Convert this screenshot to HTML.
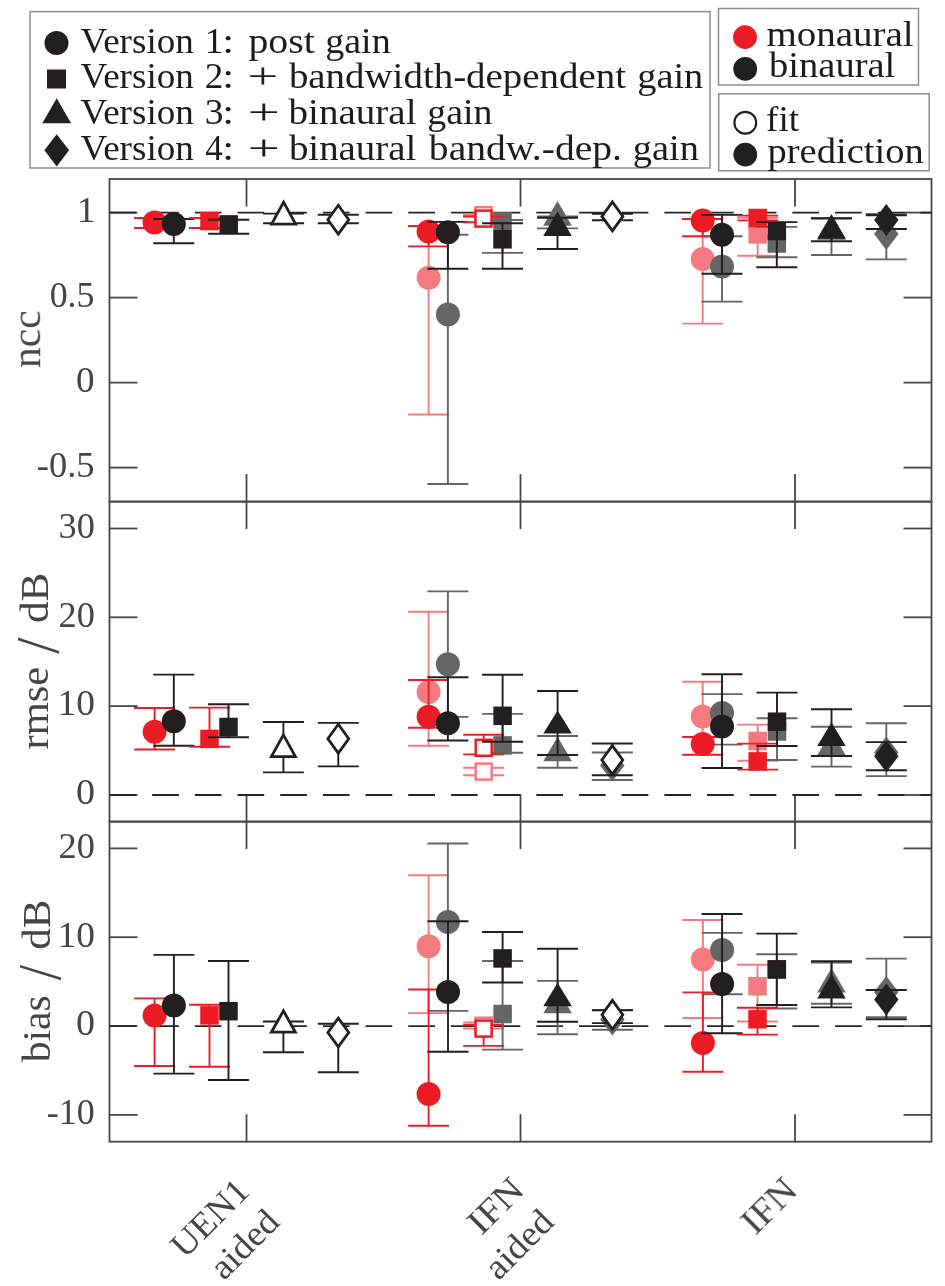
<!DOCTYPE html>
<html><head><meta charset="utf-8"><style>
html,body{margin:0;padding:0;background:#fff;width:945px;height:1286px;overflow:hidden}
svg{display:block;will-change:transform}
.tk{font-family:"Liberation Serif",serif;font-size:35px;fill:#454547}
.yl{font-family:"Liberation Serif",serif;font-size:41px;fill:#454547}
.lg{font-family:"Liberation Serif",serif;font-size:34.5px;fill:#1a1a1a}
</style></head><body>
<svg width="945" height="1286" viewBox="0 0 945 1286">
<rect x="109.5" y="179.0" width="822.0" height="322.6" fill="none" stroke="#46474a" stroke-width="1.8"/>
<line x1="246.5" y1="179.0" x2="246.5" y2="206.5" stroke="#46474a" stroke-width="1.8"/>
<line x1="246.5" y1="501.6" x2="246.5" y2="474.1" stroke="#46474a" stroke-width="1.8"/>
<line x1="520.5" y1="179.0" x2="520.5" y2="206.5" stroke="#46474a" stroke-width="1.8"/>
<line x1="520.5" y1="501.6" x2="520.5" y2="474.1" stroke="#46474a" stroke-width="1.8"/>
<line x1="795.0" y1="179.0" x2="795.0" y2="206.5" stroke="#46474a" stroke-width="1.8"/>
<line x1="795.0" y1="501.6" x2="795.0" y2="474.1" stroke="#46474a" stroke-width="1.8"/>
<rect x="109.5" y="501.6" width="822.0" height="320.0" fill="none" stroke="#46474a" stroke-width="1.8"/>
<line x1="246.5" y1="501.6" x2="246.5" y2="529.1" stroke="#46474a" stroke-width="1.8"/>
<line x1="246.5" y1="821.6" x2="246.5" y2="794.1" stroke="#46474a" stroke-width="1.8"/>
<line x1="520.5" y1="501.6" x2="520.5" y2="529.1" stroke="#46474a" stroke-width="1.8"/>
<line x1="520.5" y1="821.6" x2="520.5" y2="794.1" stroke="#46474a" stroke-width="1.8"/>
<line x1="795.0" y1="501.6" x2="795.0" y2="529.1" stroke="#46474a" stroke-width="1.8"/>
<line x1="795.0" y1="821.6" x2="795.0" y2="794.1" stroke="#46474a" stroke-width="1.8"/>
<rect x="109.5" y="821.6" width="822.0" height="320.1" fill="none" stroke="#46474a" stroke-width="1.8"/>
<line x1="246.5" y1="821.6" x2="246.5" y2="849.1" stroke="#46474a" stroke-width="1.8"/>
<line x1="246.5" y1="1141.7" x2="246.5" y2="1114.2" stroke="#46474a" stroke-width="1.8"/>
<line x1="520.5" y1="821.6" x2="520.5" y2="849.1" stroke="#46474a" stroke-width="1.8"/>
<line x1="520.5" y1="1141.7" x2="520.5" y2="1114.2" stroke="#46474a" stroke-width="1.8"/>
<line x1="795.0" y1="821.6" x2="795.0" y2="849.1" stroke="#46474a" stroke-width="1.8"/>
<line x1="795.0" y1="1141.7" x2="795.0" y2="1114.2" stroke="#46474a" stroke-width="1.8"/>
<line x1="109.5" y1="212.6" x2="137.5" y2="212.6" stroke="#46474a" stroke-width="1.8"/>
<line x1="931.5" y1="212.6" x2="903.5" y2="212.6" stroke="#46474a" stroke-width="1.8"/>
<line x1="109.5" y1="297.6" x2="137.5" y2="297.6" stroke="#46474a" stroke-width="1.8"/>
<line x1="931.5" y1="297.6" x2="903.5" y2="297.6" stroke="#46474a" stroke-width="1.8"/>
<line x1="109.5" y1="382.6" x2="137.5" y2="382.6" stroke="#46474a" stroke-width="1.8"/>
<line x1="931.5" y1="382.6" x2="903.5" y2="382.6" stroke="#46474a" stroke-width="1.8"/>
<line x1="109.5" y1="467.6" x2="137.5" y2="467.6" stroke="#46474a" stroke-width="1.8"/>
<line x1="931.5" y1="467.6" x2="903.5" y2="467.6" stroke="#46474a" stroke-width="1.8"/>
<line x1="109.5" y1="528.5" x2="137.5" y2="528.5" stroke="#46474a" stroke-width="1.8"/>
<line x1="931.5" y1="528.5" x2="903.5" y2="528.5" stroke="#46474a" stroke-width="1.8"/>
<line x1="109.5" y1="617.3" x2="137.5" y2="617.3" stroke="#46474a" stroke-width="1.8"/>
<line x1="931.5" y1="617.3" x2="903.5" y2="617.3" stroke="#46474a" stroke-width="1.8"/>
<line x1="109.5" y1="706.1" x2="137.5" y2="706.1" stroke="#46474a" stroke-width="1.8"/>
<line x1="931.5" y1="706.1" x2="903.5" y2="706.1" stroke="#46474a" stroke-width="1.8"/>
<line x1="109.5" y1="795.0" x2="137.5" y2="795.0" stroke="#46474a" stroke-width="1.8"/>
<line x1="931.5" y1="795.0" x2="903.5" y2="795.0" stroke="#46474a" stroke-width="1.8"/>
<line x1="109.5" y1="848.4" x2="137.5" y2="848.4" stroke="#46474a" stroke-width="1.8"/>
<line x1="931.5" y1="848.4" x2="903.5" y2="848.4" stroke="#46474a" stroke-width="1.8"/>
<line x1="109.5" y1="937.2" x2="137.5" y2="937.2" stroke="#46474a" stroke-width="1.8"/>
<line x1="931.5" y1="937.2" x2="903.5" y2="937.2" stroke="#46474a" stroke-width="1.8"/>
<line x1="109.5" y1="1026.1" x2="137.5" y2="1026.1" stroke="#46474a" stroke-width="1.8"/>
<line x1="931.5" y1="1026.1" x2="903.5" y2="1026.1" stroke="#46474a" stroke-width="1.8"/>
<line x1="109.5" y1="1114.9" x2="137.5" y2="1114.9" stroke="#46474a" stroke-width="1.8"/>
<line x1="931.5" y1="1114.9" x2="903.5" y2="1114.9" stroke="#46474a" stroke-width="1.8"/>
<line x1="109.5" y1="212.6" x2="931.5" y2="212.6" stroke="#262626" stroke-width="1.8" stroke-dasharray="26.7 15.98"/>
<line x1="109.5" y1="795.0" x2="931.5" y2="795.0" stroke="#262626" stroke-width="1.8" stroke-dasharray="26.7 15.98"/>
<line x1="109.5" y1="1026.1" x2="931.5" y2="1026.1" stroke="#262626" stroke-width="1.8" stroke-dasharray="26.7 15.98"/>
<rect x="30" y="11.6" width="680" height="156.4" fill="#fff" stroke="#8e8f93" stroke-width="1.5"/>
<rect x="718.5" y="8.5" width="200" height="76.5" fill="#fff" stroke="#8e8f93" stroke-width="1.5"/>
<rect x="718.7" y="93.8" width="210.5" height="77" fill="#fff" stroke="#8e8f93" stroke-width="1.5"/>
<circle cx="56.5" cy="43" r="12" fill="#231f20"/>
<rect x="47" y="69.5" width="19" height="19" fill="#231f20"/>
<path d="M42.3 123.2 L56.7 98.3 L71.1 123.2 Z" fill="#231f20"/>
<path d="M56.7 134.2 L69.1 150.3 L56.7 166.4 L44.4 150.3 Z" fill="#231f20"/>
<circle cx="745" cy="37.2" r="11.9" fill="#ed1c24"/>
<circle cx="745.2" cy="68.9" r="11.9" fill="#231f20"/>
<circle cx="745.3" cy="122.7" r="10.9" fill="none" stroke="#231f20" stroke-width="2.2"/>
<circle cx="745.3" cy="154.6" r="11.9" fill="#231f20"/>
<path d="M154.5 218V228M134.0 218H175.0M134.0 228H175.0" stroke="#ed1c24" stroke-width="1.9" fill="none"/>
<circle cx="154.5" cy="222.5" r="12" fill="#ed1c24"/>
<path d="M173.8 219V243.3M153.3 219H194.3M153.3 243.3H194.3" stroke="#231f20" stroke-width="1.9" fill="none"/>
<circle cx="173.8" cy="224" r="12" fill="#231f20"/>
<path d="M209.5 218V228M189.0 218H230.0M189.0 228H230.0" stroke="#ed1c24" stroke-width="1.9" fill="none"/>
<rect x="200.25" y="211.75" width="18.5" height="18.5" fill="#ed1c24"/>
<path d="M228.7 219.8V233.7M208.2 219.8H249.2M208.2 233.7H249.2" stroke="#231f20" stroke-width="1.9" fill="none"/>
<rect x="219.45" y="215.15" width="18.5" height="18.5" fill="#231f20"/>
<path d="M283.6 213.6V223.2M263.1 213.6H304.1M263.1 223.2H304.1" stroke="#231f20" stroke-width="1.9" fill="none"/>
<path d="M283.6 202.2L295.6 224.2H271.6Z" fill="#fff" stroke="#231f20" stroke-width="2.8" stroke-linejoin="miter"/>
<path d="M338.3 214.7V223.2M317.8 214.7H358.8M317.8 223.2H358.8" stroke="#231f20" stroke-width="1.9" fill="none"/>
<path d="M338.3 205.29999999999998L348.75 219.7L338.3 234.1L327.85 219.7Z" fill="#fff" stroke="#231f20" stroke-width="2.8" stroke-linejoin="miter"/>
<path d="M428.6 226V414.5M408.1 226H449.1M408.1 414.5H449.1" stroke="#f37a7f" stroke-width="1.9" fill="none"/>
<circle cx="428.6" cy="277.8" r="12" fill="#f37a7f"/>
<path d="M447.9 234.7V484M427.4 234.7H468.4M427.4 484H468.4" stroke="#646567" stroke-width="1.9" fill="none"/>
<circle cx="447.9" cy="314.5" r="12" fill="#646567"/>
<path d="M428.6 226V246.4M408.1 226H449.1M408.1 246.4H449.1" stroke="#ed1c24" stroke-width="1.9" fill="none"/>
<circle cx="428.6" cy="231.5" r="12" fill="#ed1c24"/>
<path d="M447.9 221.9V268.8M427.4 221.9H468.4M427.4 268.8H468.4" stroke="#231f20" stroke-width="1.9" fill="none"/>
<circle cx="447.9" cy="232.3" r="12" fill="#231f20"/>
<path d="M483.5 214.3V216.3M463.0 214.3H504.0M463.0 216.3H504.0" stroke="#f37a7f" stroke-width="1.9" fill="none"/>
<rect x="475.5" y="207.2" width="16.0" height="16.0" fill="#fff" stroke="#f37a7f" stroke-width="2.5"/>
<path d="M502.5 220V252.9M482.0 220H523.0M482.0 252.9H523.0" stroke="#646567" stroke-width="1.9" fill="none"/>
<rect x="493.25" y="212.05" width="18.5" height="18.5" fill="#646567"/>
<path d="M483.5 216.5V222.3M463.0 216.5H504.0M463.0 222.3H504.0" stroke="#ed1c24" stroke-width="1.9" fill="none"/>
<rect x="475.5" y="210.6" width="16.0" height="16.0" fill="#fff" stroke="#ed1c24" stroke-width="2.5"/>
<path d="M502.5 223.3V268.8M482.0 223.3H523.0M482.0 268.8H523.0" stroke="#231f20" stroke-width="1.9" fill="none"/>
<rect x="493.25" y="230.05" width="18.5" height="18.5" fill="#231f20"/>
<path d="M557.5 216.5V228.4M537.0 216.5H578.0M537.0 228.4H578.0" stroke="#646567" stroke-width="1.9" fill="none"/>
<path d="M557.5 201.1L571.8 225.7H543.2Z" fill="#646567"/>
<path d="M557.5 217.8V249M537.0 217.8H578.0M537.0 249H578.0" stroke="#231f20" stroke-width="1.9" fill="none"/>
<path d="M557.5 211.4L571.8 236H543.2Z" fill="#231f20"/>
<path d="M612.4 213.8V220.2M591.9 213.8H632.9M591.9 220.2H632.9" stroke="#231f20" stroke-width="1.9" fill="none"/>
<path d="M612.4 202.0L622.85 216.4L612.4 230.8L601.9499999999999 216.4Z" fill="#fff" stroke="#231f20" stroke-width="2.8" stroke-linejoin="miter"/>
<path d="M702.7 219V323.6M682.2 219H723.2M682.2 323.6H723.2" stroke="#f37a7f" stroke-width="1.9" fill="none"/>
<circle cx="702.7" cy="259.1" r="12" fill="#f37a7f"/>
<path d="M722 236.3V301.6M701.5 236.3H742.5M701.5 301.6H742.5" stroke="#646567" stroke-width="1.9" fill="none"/>
<circle cx="722" cy="266.5" r="12" fill="#646567"/>
<path d="M702.7 219V236.3M682.2 219H723.2M682.2 236.3H723.2" stroke="#ed1c24" stroke-width="1.9" fill="none"/>
<circle cx="702.7" cy="220.5" r="12" fill="#ed1c24"/>
<path d="M722 214.9V273.8M701.5 214.9H742.5M701.5 273.8H742.5" stroke="#231f20" stroke-width="1.9" fill="none"/>
<circle cx="722" cy="234.7" r="12" fill="#231f20"/>
<path d="M757.7 217.7V255.8M737.2 217.7H778.2M737.2 255.8H778.2" stroke="#f37a7f" stroke-width="1.9" fill="none"/>
<rect x="748.45" y="225.05" width="18.5" height="18.5" fill="#f37a7f"/>
<path d="M776.8 226.9V257.3M756.3 226.9H797.3M756.3 257.3H797.3" stroke="#646567" stroke-width="1.9" fill="none"/>
<rect x="767.55" y="234.25" width="18.5" height="18.5" fill="#646567"/>
<path d="M757.7 215.6V220.4M737.2 215.6H778.2M737.2 220.4H778.2" stroke="#ed1c24" stroke-width="1.9" fill="none"/>
<rect x="748.45" y="208.75" width="18.5" height="18.5" fill="#ed1c24"/>
<path d="M776.8 222.1V267.2M756.3 222.1H797.3M756.3 267.2H797.3" stroke="#231f20" stroke-width="1.9" fill="none"/>
<rect x="767.55" y="221.75" width="18.5" height="18.5" fill="#231f20"/>
<path d="M831.5 218V255M811.0 218H852.0M811.0 255H852.0" stroke="#646567" stroke-width="1.9" fill="none"/>
<path d="M831.5 215L845.8 239.7H817.2Z" fill="#646567"/>
<path d="M831.5 218.5V241.3M811.0 218.5H852.0M811.0 241.3H852.0" stroke="#231f20" stroke-width="1.9" fill="none"/>
<path d="M831.5 214L845.8 238.8H817.2Z" fill="#231f20"/>
<path d="M886.3 214V259.4M865.8 214H906.8M865.8 259.4H906.8" stroke="#646567" stroke-width="1.9" fill="none"/>
<path d="M886.3 217.9L898.5 233.9L886.3 249.9L874.0999999999999 233.9Z" fill="#646567"/>
<path d="M886.3 215.3V229M865.8 215.3H906.8M865.8 229H906.8" stroke="#231f20" stroke-width="1.9" fill="none"/>
<path d="M886.3 203.9L898.5 219.9L886.3 235.9L874.0999999999999 219.9Z" fill="#231f20"/>
<path d="M154.6 708V749.5M134.1 708H175.1M134.1 749.5H175.1" stroke="#ed1c24" stroke-width="1.9" fill="none"/>
<circle cx="154.6" cy="731.7" r="12" fill="#ed1c24"/>
<path d="M173.8 674.6V745.7M153.3 674.6H194.3M153.3 745.7H194.3" stroke="#231f20" stroke-width="1.9" fill="none"/>
<circle cx="173.8" cy="721.2" r="12" fill="#231f20"/>
<path d="M209.5 707.6V746.7M189.0 707.6H230.0M189.0 746.7H230.0" stroke="#ed1c24" stroke-width="1.9" fill="none"/>
<rect x="200.25" y="729.65" width="18.5" height="18.5" fill="#ed1c24"/>
<path d="M228.5 704.2V737.2M208.0 704.2H249.0M208.0 737.2H249.0" stroke="#231f20" stroke-width="1.9" fill="none"/>
<rect x="219.25" y="717.75" width="18.5" height="18.5" fill="#231f20"/>
<path d="M283.4 722V772.4M262.9 722H303.9M262.9 772.4H303.9" stroke="#231f20" stroke-width="1.9" fill="none"/>
<path d="M283.4 734.9L295.4 756.6H271.4Z" fill="#fff" stroke="#231f20" stroke-width="2.8" stroke-linejoin="miter"/>
<path d="M338.3 722.9V766.4M317.8 722.9H358.8M317.8 766.4H358.8" stroke="#231f20" stroke-width="1.9" fill="none"/>
<path d="M338.3 724.3000000000001L348.75 738.7L338.3 753.1L327.85 738.7Z" fill="#fff" stroke="#231f20" stroke-width="2.8" stroke-linejoin="miter"/>
<path d="M428.6 611.8V745.8M408.1 611.8H449.1M408.1 745.8H449.1" stroke="#f37a7f" stroke-width="1.9" fill="none"/>
<circle cx="428.6" cy="691.9" r="12" fill="#f37a7f"/>
<path d="M447.9 591.4V716.9M427.4 591.4H468.4M427.4 716.9H468.4" stroke="#646567" stroke-width="1.9" fill="none"/>
<circle cx="447.9" cy="664.2" r="12" fill="#646567"/>
<path d="M428.6 680V727.8M408.1 680H449.1M408.1 727.8H449.1" stroke="#ed1c24" stroke-width="1.9" fill="none"/>
<circle cx="428.6" cy="716.8" r="12" fill="#ed1c24"/>
<path d="M447.9 677.2V740.5M427.4 677.2H468.4M427.4 740.5H468.4" stroke="#231f20" stroke-width="1.9" fill="none"/>
<circle cx="447.9" cy="723.3" r="12" fill="#231f20"/>
<path d="M483.7 767.8V775.2M463.2 767.8H504.2M463.2 775.2H504.2" stroke="#f37a7f" stroke-width="1.9" fill="none"/>
<rect x="475.7" y="763.6" width="16.0" height="16.0" fill="#fff" stroke="#f37a7f" stroke-width="2.5"/>
<path d="M502.6 713.9V752.8M482.1 713.9H523.1M482.1 752.8H523.1" stroke="#646567" stroke-width="1.9" fill="none"/>
<rect x="493.35" y="736.15" width="18.5" height="18.5" fill="#646567"/>
<path d="M483.7 734.8V754.4M463.2 734.8H504.2M463.2 754.4H504.2" stroke="#ed1c24" stroke-width="1.9" fill="none"/>
<rect x="475.7" y="739.8" width="16.0" height="16.0" fill="#fff" stroke="#ed1c24" stroke-width="2.5"/>
<path d="M502.6 674.7V741.7M482.1 674.7H523.1M482.1 741.7H523.1" stroke="#231f20" stroke-width="1.9" fill="none"/>
<rect x="493.35" y="706.55" width="18.5" height="18.5" fill="#231f20"/>
<path d="M557.6 736V767.8M537.1 736H578.1M537.1 767.8H578.1" stroke="#646567" stroke-width="1.9" fill="none"/>
<path d="M557.6 736.7L571.9 761.2H543.3000000000001Z" fill="#646567"/>
<path d="M557.6 691V755M537.1 691H578.1M537.1 755H578.1" stroke="#231f20" stroke-width="1.9" fill="none"/>
<path d="M557.6 710.5L571.9 733.6H543.3000000000001Z" fill="#231f20"/>
<path d="M612.3 752.5V780M591.8 752.5H632.8M591.8 780H632.8" stroke="#646567" stroke-width="1.9" fill="none"/>
<path d="M612.3 749.5L624.5 765.5L612.3 781.5L600.0999999999999 765.5Z" fill="#646567"/>
<path d="M612.3 743.5V775.2M591.8 743.5H632.8M591.8 775.2H632.8" stroke="#231f20" stroke-width="1.9" fill="none"/>
<path d="M612.3 745.6L622.75 760L612.3 774.4L601.8499999999999 760Z" fill="#fff" stroke="#231f20" stroke-width="2.8" stroke-linejoin="miter"/>
<path d="M702.7 681.7V755M682.2 681.7H723.2M682.2 755H723.2" stroke="#f37a7f" stroke-width="1.9" fill="none"/>
<circle cx="702.7" cy="716.4" r="12" fill="#f37a7f"/>
<path d="M722 694.1V744.6M701.5 694.1H742.5M701.5 744.6H742.5" stroke="#646567" stroke-width="1.9" fill="none"/>
<circle cx="722" cy="713" r="12" fill="#646567"/>
<path d="M702.7 737V754.6M682.2 737H723.2M682.2 754.6H723.2" stroke="#ed1c24" stroke-width="1.9" fill="none"/>
<circle cx="702.7" cy="743.9" r="12" fill="#ed1c24"/>
<path d="M722 674.2V768M701.5 674.2H742.5M701.5 768H742.5" stroke="#231f20" stroke-width="1.9" fill="none"/>
<circle cx="722" cy="726.4" r="12" fill="#231f20"/>
<path d="M757.7 724.6V760.8M737.2 724.6H778.2M737.2 760.8H778.2" stroke="#f37a7f" stroke-width="1.9" fill="none"/>
<rect x="748.45" y="731.75" width="18.5" height="18.5" fill="#f37a7f"/>
<path d="M777 718.2V760M756.5 718.2H797.5M756.5 760H797.5" stroke="#646567" stroke-width="1.9" fill="none"/>
<rect x="767.75" y="722.25" width="18.5" height="18.5" fill="#646567"/>
<path d="M757.7 743.6V769.6M737.2 743.6H778.2M737.2 769.6H778.2" stroke="#ed1c24" stroke-width="1.9" fill="none"/>
<rect x="748.45" y="752.15" width="18.5" height="18.5" fill="#ed1c24"/>
<path d="M777 692.6V746M756.5 692.6H797.5M756.5 746H797.5" stroke="#231f20" stroke-width="1.9" fill="none"/>
<rect x="767.75" y="712.45" width="18.5" height="18.5" fill="#231f20"/>
<path d="M831.5 726.8V766.6M811.0 726.8H852.0M811.0 766.6H852.0" stroke="#646567" stroke-width="1.9" fill="none"/>
<path d="M831.5 731L845.8 755.4H817.2Z" fill="#646567"/>
<path d="M831.5 709.3V756M811.0 709.3H852.0M811.0 756H852.0" stroke="#231f20" stroke-width="1.9" fill="none"/>
<path d="M831.5 722.4L845.8 745.9H817.2Z" fill="#231f20"/>
<path d="M886.3 723.3V776.1M865.8 723.3H906.8M865.8 776.1H906.8" stroke="#646567" stroke-width="1.9" fill="none"/>
<path d="M886.3 736.5L898.5 752.5L886.3 768.5L874.0999999999999 752.5Z" fill="#646567"/>
<path d="M886.3 742.1V770.3M865.8 742.1H906.8M865.8 770.3H906.8" stroke="#231f20" stroke-width="1.9" fill="none"/>
<path d="M886.3 740.3L898.5 756.3L886.3 772.3L874.0999999999999 756.3Z" fill="#231f20"/>
<path d="M154.6 998.4V1066M134.1 998.4H175.1M134.1 1066H175.1" stroke="#ed1c24" stroke-width="1.9" fill="none"/>
<circle cx="154.6" cy="1015.5" r="12" fill="#ed1c24"/>
<path d="M173.9 954.9V1073.6M153.4 954.9H194.4M153.4 1073.6H194.4" stroke="#231f20" stroke-width="1.9" fill="none"/>
<circle cx="173.9" cy="1005.5" r="12" fill="#231f20"/>
<path d="M209.5 1004.8V1066.7M189.0 1004.8H230.0M189.0 1066.7H230.0" stroke="#ed1c24" stroke-width="1.9" fill="none"/>
<rect x="200.25" y="1006.15" width="18.5" height="18.5" fill="#ed1c24"/>
<path d="M228.5 961V1080M208.0 961H249.0M208.0 1080H249.0" stroke="#231f20" stroke-width="1.9" fill="none"/>
<rect x="219.25" y="1001.95" width="18.5" height="18.5" fill="#231f20"/>
<path d="M283.4 1021.5V1052.2M262.9 1021.5H303.9M262.9 1052.2H303.9" stroke="#231f20" stroke-width="1.9" fill="none"/>
<path d="M283.4 1010.8000000000001L295.4 1032.1999999999998H271.4Z" fill="#fff" stroke="#231f20" stroke-width="2.8" stroke-linejoin="miter"/>
<path d="M338.3 1023.7V1072.3M317.8 1023.7H358.8M317.8 1072.3H358.8" stroke="#231f20" stroke-width="1.9" fill="none"/>
<path d="M338.3 1018.1L348.75 1032.5L338.3 1046.9L327.85 1032.5Z" fill="#fff" stroke="#231f20" stroke-width="2.8" stroke-linejoin="miter"/>
<path d="M428.6 875.2V1013.1M408.1 875.2H449.1M408.1 1013.1H449.1" stroke="#f37a7f" stroke-width="1.9" fill="none"/>
<circle cx="428.6" cy="946.2" r="12" fill="#f37a7f"/>
<path d="M447.9 843.5V1010.9M427.4 843.5H468.4M427.4 1010.9H468.4" stroke="#646567" stroke-width="1.9" fill="none"/>
<circle cx="447.9" cy="921.9" r="12" fill="#646567"/>
<path d="M428.6 989.5V1125.7M408.1 989.5H449.1M408.1 1125.7H449.1" stroke="#ed1c24" stroke-width="1.9" fill="none"/>
<circle cx="428.6" cy="1094" r="12" fill="#ed1c24"/>
<path d="M448 921.2V1051.8M427.5 921.2H468.5M427.5 1051.8H468.5" stroke="#231f20" stroke-width="1.9" fill="none"/>
<circle cx="448" cy="992" r="12" fill="#231f20"/>
<path d="M483.6 1022.5V1028.5M463.1 1022.5H504.1M463.1 1028.5H504.1" stroke="#f37a7f" stroke-width="1.9" fill="none"/>
<rect x="475.6" y="1017.8" width="16.0" height="16.0" fill="#fff" stroke="#f37a7f" stroke-width="2.5"/>
<path d="M502.6 961V1049.6M482.1 961H523.1M482.1 1049.6H523.1" stroke="#646567" stroke-width="1.9" fill="none"/>
<rect x="493.35" y="1004.75" width="18.5" height="18.5" fill="#646567"/>
<path d="M483.6 1025V1045.9M463.1 1025H504.1M463.1 1045.9H504.1" stroke="#ed1c24" stroke-width="1.9" fill="none"/>
<rect x="475.6" y="1020.5999999999999" width="16.0" height="16.0" fill="#fff" stroke="#ed1c24" stroke-width="2.5"/>
<path d="M502.6 932V982.5M482.1 932H523.1M482.1 982.5H523.1" stroke="#231f20" stroke-width="1.9" fill="none"/>
<rect x="493.35" y="949.15" width="18.5" height="18.5" fill="#231f20"/>
<path d="M557.6 980.9V1034.3M537.1 980.9H578.1M537.1 1034.3H578.1" stroke="#646567" stroke-width="1.9" fill="none"/>
<path d="M557.6 989.6L571.9 1013.2H543.3000000000001Z" fill="#646567"/>
<path d="M557.6 948.8V1021.7M537.1 948.8H578.1M537.1 1021.7H578.1" stroke="#231f20" stroke-width="1.9" fill="none"/>
<path d="M557.6 982.7L571.9 1006.3H543.3000000000001Z" fill="#231f20"/>
<path d="M612.4 1010V1029.7M591.9 1010H632.9M591.9 1029.7H632.9" stroke="#646567" stroke-width="1.9" fill="none"/>
<path d="M612.4 1003.5L624.6 1019.5L612.4 1035.5L600.1999999999999 1019.5Z" fill="#646567"/>
<path d="M612.4 1010.2V1023.1M591.9 1010.2H632.9M591.9 1023.1H632.9" stroke="#231f20" stroke-width="1.9" fill="none"/>
<path d="M612.4 1000.4L622.85 1014.8L612.4 1029.2L601.9499999999999 1014.8Z" fill="#fff" stroke="#231f20" stroke-width="2.8" stroke-linejoin="miter"/>
<path d="M702.9 920V1018M682.4 920H723.4M682.4 1018H723.4" stroke="#f37a7f" stroke-width="1.9" fill="none"/>
<circle cx="702.9" cy="959.5" r="12" fill="#f37a7f"/>
<path d="M722.1 932.9V994.2M701.6 932.9H742.6M701.6 994.2H742.6" stroke="#646567" stroke-width="1.9" fill="none"/>
<circle cx="722.1" cy="949.9" r="12" fill="#646567"/>
<path d="M702.9 992.4V1071.8M682.4 992.4H723.4M682.4 1071.8H723.4" stroke="#ed1c24" stroke-width="1.9" fill="none"/>
<circle cx="702.9" cy="1042.9" r="12" fill="#ed1c24"/>
<path d="M722.1 914V1033.2M701.6 914H742.6M701.6 1033.2H742.6" stroke="#231f20" stroke-width="1.9" fill="none"/>
<circle cx="722.1" cy="984" r="12" fill="#231f20"/>
<path d="M757.5 964.7V1021.5M737.0 964.7H778.0M737.0 1021.5H778.0" stroke="#f37a7f" stroke-width="1.9" fill="none"/>
<rect x="748.25" y="976.95" width="18.5" height="18.5" fill="#f37a7f"/>
<path d="M776.8 954.2V1008.5M756.3 954.2H797.3M756.3 1008.5H797.3" stroke="#646567" stroke-width="1.9" fill="none"/>
<rect x="767.55" y="960.15" width="18.5" height="18.5" fill="#646567"/>
<path d="M757.5 1007.8V1034.6M737.0 1007.8H778.0M737.0 1034.6H778.0" stroke="#ed1c24" stroke-width="1.9" fill="none"/>
<rect x="748.25" y="1010.05" width="18.5" height="18.5" fill="#ed1c24"/>
<path d="M776.8 933.6V1005M756.3 933.6H797.3M756.3 1005H797.3" stroke="#231f20" stroke-width="1.9" fill="none"/>
<rect x="767.55" y="960.15" width="18.5" height="18.5" fill="#231f20"/>
<path d="M831.5 962.5V1003.7M811.0 962.5H852.0M811.0 1003.7H852.0" stroke="#646567" stroke-width="1.9" fill="none"/>
<path d="M831.5 968L845.8 992.5H817.2Z" fill="#646567"/>
<path d="M831.5 961.2V1007.4M811.0 961.2H852.0M811.0 1007.4H852.0" stroke="#231f20" stroke-width="1.9" fill="none"/>
<path d="M831.5 974.1L845.8 998.5H817.2Z" fill="#231f20"/>
<path d="M886.3 958.6V1017.3M865.8 958.6H906.8M865.8 1017.3H906.8" stroke="#646567" stroke-width="1.9" fill="none"/>
<path d="M886.3 976L898.5 992L886.3 1008L874.0999999999999 992Z" fill="#646567"/>
<path d="M886.3 990V1019.2M865.8 990H906.8M865.8 1019.2H906.8" stroke="#231f20" stroke-width="1.9" fill="none"/>
<path d="M886.3 983.5L898.5 999.5L886.3 1015.5L874.0999999999999 999.5Z" fill="#231f20"/>
<g font-family="Liberation Serif, serif">
<text transform="translate(80.50 52.80) scale(1.0594 1)" font-size="35" fill="#1c1c1c">Version</text>
<text transform="translate(204.80 52.80) scale(1.0667 1)" font-size="35" fill="#1c1c1c">1</text>
<text transform="translate(222.13 52.80) scale(1.2250 1)" font-size="35" fill="#1c1c1c">:</text>
<text transform="translate(248.46 52.80) scale(1.1368 1)" font-size="35" fill="#1c1c1c">post</text>
<text transform="translate(325.23 52.80) scale(1.0862 1)" font-size="35" fill="#1c1c1c">gain</text>
<text transform="translate(80.50 88.40) scale(1.0594 1)" font-size="35" fill="#1c1c1c">Version</text>
<text transform="translate(204.67 88.40) scale(1.0643 1)" font-size="35" fill="#1c1c1c">2</text>
<text transform="translate(222.13 88.40) scale(1.2250 1)" font-size="35" fill="#1c1c1c">:</text>
<text transform="translate(247.59 88.40) scale(1.5563 1)" font-size="35" fill="#1c1c1c">+</text>
<text transform="translate(288.89 88.40) scale(1.1119 1)" font-size="35" fill="#1c1c1c">bandwidth-dependent</text>
<text transform="translate(637.21 88.40) scale(1.0966 1)" font-size="35" fill="#1c1c1c">gain</text>
<text transform="translate(80.50 124.00) scale(1.0594 1)" font-size="35" fill="#1c1c1c">Version</text>
<text transform="translate(204.86 124.00) scale(1.0714 1)" font-size="35" fill="#1c1c1c">3</text>
<text transform="translate(222.13 124.00) scale(1.2250 1)" font-size="35" fill="#1c1c1c">:</text>
<text transform="translate(247.75 124.00) scale(1.6250 1)" font-size="35" fill="#1c1c1c">+</text>
<text transform="translate(288.58 124.00) scale(1.1159 1)" font-size="35" fill="#1c1c1c">binaural</text>
<text transform="translate(427.23 124.00) scale(1.0828 1)" font-size="35" fill="#1c1c1c">gain</text>
<text transform="translate(80.50 159.60) scale(1.0594 1)" font-size="35" fill="#1c1c1c">Version</text>
<text transform="translate(205.20 159.60) scale(1.0000 1)" font-size="35" fill="#1c1c1c">4</text>
<text transform="translate(222.13 159.60) scale(1.2250 1)" font-size="35" fill="#1c1c1c">:</text>
<text transform="translate(247.75 159.60) scale(1.6250 1)" font-size="35" fill="#1c1c1c">+</text>
<text transform="translate(288.89 159.60) scale(1.1115 1)" font-size="35" fill="#1c1c1c">binaural</text>
<text transform="translate(428.87 159.60) scale(1.1317 1)" font-size="35" fill="#1c1c1c">bandw.-dep.</text>
<text transform="translate(632.81 159.60) scale(1.0966 1)" font-size="35" fill="#1c1c1c">gain</text>
<text transform="translate(766.49 45.90) scale(1.1138 1)" font-size="35" fill="#1c1c1c">monaural</text>
<text transform="translate(769.10 77.40) scale(1.1009 1)" font-size="35" fill="#1c1c1c">binaural</text>
<text transform="translate(766.08 131.40) scale(1.0621 1)" font-size="35" fill="#1c1c1c">fit</text>
<text transform="translate(767.50 163.00) scale(1.1007 1)" font-size="35" fill="#1c1c1c">prediction</text>
<text transform="translate(76.64 222.00) scale(1.0538 1)" font-size="36" fill="#454547">1</text>
<text transform="translate(49.70 307.00) scale(0.9953 1)" font-size="36" fill="#454547">0.5</text>
<text transform="translate(75.97 392.00) scale(1.0312 1)" font-size="36" fill="#454547">0</text>
<text transform="translate(36.79 477.00) scale(1.0127 1)" font-size="36" fill="#454547">-0.5</text>
<text transform="translate(58.58 537.75) scale(1.0091 1)" font-size="36" fill="#454547">30</text>
<text transform="translate(58.58 626.60) scale(1.0091 1)" font-size="36" fill="#454547">20</text>
<text transform="translate(57.48 715.45) scale(1.0406 1)" font-size="36" fill="#454547">10</text>
<text transform="translate(75.94 804.30) scale(1.0563 1)" font-size="36" fill="#454547">0</text>
<text transform="translate(58.58 857.70) scale(1.0091 1)" font-size="36" fill="#454547">20</text>
<text transform="translate(57.48 946.55) scale(1.0406 1)" font-size="36" fill="#454547">10</text>
<text transform="translate(75.94 1035.40) scale(1.0563 1)" font-size="36" fill="#454547">0</text>
<text transform="translate(46.80 1124.25) scale(1.0022 1)" font-size="36" fill="#454547">-10</text>
<text transform="translate(40.20 368.05) rotate(-90) scale(1.0500 1)" font-size="39.5" fill="#454547">ncc</text>
<text transform="translate(48.10 749.48) rotate(-90) scale(1.0757 1)" font-size="39.5" fill="#454547">rmse</text>
<text transform="translate(58.20 653.70) rotate(-90) scale(1.4818 1.5423)" font-size="39.5" fill="#454547">/</text>
<text transform="translate(48.10 623.00) rotate(-90) scale(1.0953 1)" font-size="39.5" fill="#454547">dB</text>
<text transform="translate(49.90 1062.35) rotate(-90) scale(1.0541 1)" font-size="39.5" fill="#454547">bias</text>
<text transform="translate(59.70 980.20) rotate(-90) scale(1.4000 1.5462)" font-size="39.5" fill="#454547">/</text>
<text transform="translate(49.90 949.79) rotate(-90) scale(1.0884 1)" font-size="39.5" fill="#454547">dB</text>
<text transform="translate(184.81 1259.52) rotate(-45) scale(1.0364 1)" font-size="35.5" fill="#454547">UEN1</text>
<text transform="translate(223.97 1281.18) rotate(-45) scale(1.0566 1)" font-size="35.5" fill="#454547">aided</text>
<text transform="translate(481.54 1236.31) rotate(-45) scale(1.1000 1)" font-size="35.5" fill="#454547">IFN</text>
<text transform="translate(498.47 1281.18) rotate(-45) scale(1.0566 1)" font-size="35.5" fill="#454547">aided</text>
<text transform="translate(755.41 1236.08) rotate(-45) scale(1.0873 1)" font-size="35.5" fill="#454547">IFN</text>
</g>
</svg></body></html>
